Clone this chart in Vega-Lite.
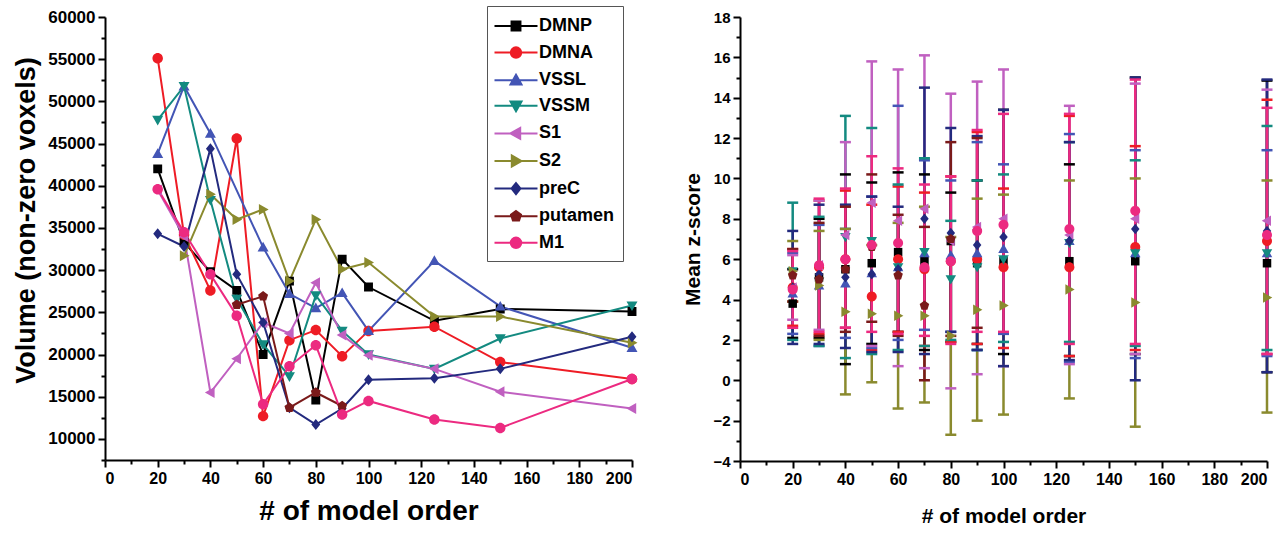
{
  "$schema": "https://vega.github.io/schema/vega-lite/v6.json",
  "padding": {"left": 12, "top": 5, "right": 0, "bottom": 0},
  "config": {
    "font": "Liberation Sans",
    "view": {"stroke": null},
    "axis": {"domainColor": "black", "domainWidth": 2, "tickColor": "black", "tickWidth": 2, "tickSize": 7, "labelFont": "Liberation Sans", "labelFontWeight": "bold", "labelFontSize": 15, "labelColor": "black", "labelPadding": 3, "titleFont": "Liberation Sans", "titleFontWeight": "bold", "titleFontSize": 21, "titleColor": "black", "grid": false}
  },
  "datasets": {
    "vol": [
      {"s":"DMNP","x":20,"v":42000},{"s":"DMNP","x":30,"v":33300},{"s":"DMNP","x":40,"v":29800},{"s":"DMNP","x":50,"v":27600},{"s":"DMNP","x":60,"v":20000},{"s":"DMNP","x":70,"v":28700},{"s":"DMNP","x":80,"v":14600},{"s":"DMNP","x":90,"v":31300},{"s":"DMNP","x":100,"v":28000},{"s":"DMNP","x":125,"v":24000},{"s":"DMNP","x":150,"v":25400},{"s":"DMNP","x":200,"v":25100},
      {"s":"DMNA","x":20,"v":55100},{"s":"DMNA","x":30,"v":34200},{"s":"DMNA","x":40,"v":27600},{"s":"DMNA","x":50,"v":45600},{"s":"DMNA","x":60,"v":12700},{"s":"DMNA","x":70,"v":21700},{"s":"DMNA","x":80,"v":22900},{"s":"DMNA","x":90,"v":19800},{"s":"DMNA","x":100,"v":22800},{"s":"DMNA","x":125,"v":23300},{"s":"DMNA","x":150,"v":19100},{"s":"DMNA","x":200,"v":17100},
      {"s":"VSSL","x":20,"v":43800},{"s":"VSSL","x":30,"v":51800},{"s":"VSSL","x":40,"v":46200},{"s":"VSSL","x":60,"v":32700},{"s":"VSSL","x":70,"v":27200},{"s":"VSSL","x":80,"v":25500},{"s":"VSSL","x":90,"v":27300},{"s":"VSSL","x":100,"v":22800},{"s":"VSSL","x":125,"v":31100},{"s":"VSSL","x":150,"v":25700},{"s":"VSSL","x":200,"v":20800},
      {"s":"VSSM","x":20,"v":47800},{"s":"VSSM","x":30,"v":51800},{"s":"VSSM","x":40,"v":38300},{"s":"VSSM","x":50,"v":26600},{"s":"VSSM","x":60,"v":21200},{"s":"VSSM","x":70,"v":17400},{"s":"VSSM","x":80,"v":27000},{"s":"VSSM","x":90,"v":22800},{"s":"VSSM","x":100,"v":20000},{"s":"VSSM","x":125,"v":18300},{"s":"VSSM","x":150,"v":21900},{"s":"VSSM","x":200,"v":25800},
      {"s":"S1","x":20,"v":39500},{"s":"S1","x":30,"v":34000},{"s":"S1","x":40,"v":15500},{"s":"S1","x":50,"v":19500},{"s":"S1","x":60,"v":23800},{"s":"S1","x":70,"v":22500},{"s":"S1","x":80,"v":28500},{"s":"S1","x":90,"v":22300},{"s":"S1","x":100,"v":19900},{"s":"S1","x":125,"v":18300},{"s":"S1","x":150,"v":15600},{"s":"S1","x":200,"v":13600},
      {"s":"S2","x":30,"v":31700},{"s":"S2","x":40,"v":39000},{"s":"S2","x":50,"v":36000},{"s":"S2","x":60,"v":37200},{"s":"S2","x":70,"v":28700},{"s":"S2","x":80,"v":36000},{"s":"S2","x":90,"v":30100},{"s":"S2","x":100,"v":30900},{"s":"S2","x":125,"v":24500},{"s":"S2","x":150,"v":24500},{"s":"S2","x":200,"v":21400},
      {"s":"preC","x":20,"v":34300},{"s":"preC","x":30,"v":32800},{"s":"preC","x":40,"v":44400},{"s":"preC","x":50,"v":29500},{"s":"preC","x":60,"v":23800},{"s":"preC","x":70,"v":13700},{"s":"preC","x":80,"v":11700},{"s":"preC","x":90,"v":13600},{"s":"preC","x":100,"v":17000},{"s":"preC","x":125,"v":17200},{"s":"preC","x":150,"v":18300},{"s":"preC","x":200,"v":22100},
      {"s":"putamen","x":50,"v":25900},{"s":"putamen","x":60,"v":26900},{"s":"putamen","x":70,"v":13700},{"s":"putamen","x":80,"v":15500},{"s":"putamen","x":90,"v":13900},
      {"s":"M1","x":20,"v":39600},{"s":"M1","x":30,"v":34500},{"s":"M1","x":40,"v":29500},{"s":"M1","x":50,"v":24600},{"s":"M1","x":60,"v":14100},{"s":"M1","x":70,"v":18600},{"s":"M1","x":80,"v":21100},{"s":"M1","x":90,"v":12900},{"s":"M1","x":100,"v":14500},{"s":"M1","x":125,"v":12300},{"s":"M1","x":150,"v":11300},{"s":"M1","x":200,"v":17100}
    ],
    "z": [
      {"s":"DMNP","x":20,"m":3.8,"lo":2.1,"hi":5.5},{"s":"DMNP","x":30,"m":5.1,"lo":2.1,"hi":8.0},{"s":"DMNP","x":40,"m":5.5,"lo":0.8,"hi":10.2},{"s":"DMNP","x":50,"m":5.8,"lo":1.8,"hi":9.8},{"s":"DMNP","x":60,"m":6.35,"lo":2.4,"hi":10.3},{"s":"DMNP","x":70,"m":5.9,"lo":1.5,"hi":10.2},{"s":"DMNP","x":80,"m":6.9,"lo":1.9,"hi":9.3},{"s":"DMNP","x":90,"m":5.8,"lo":1.8,"hi":9.9},{"s":"DMNP","x":100,"m":5.9,"lo":1.3,"hi":13.4},{"s":"DMNP","x":125,"m":5.9,"lo":1.2,"hi":10.7},{"s":"DMNP","x":150,"m":5.9,"lo":1.3,"hi":15.0},{"s":"DMNP","x":200,"m":5.8,"lo":0.4,"hi":14.85},
      {"s":"DMNA","x":20,"m":4.6,"lo":2.7,"hi":6.5},{"s":"DMNA","x":30,"m":5.6,"lo":2.3,"hi":8.9},{"s":"DMNA","x":40,"m":6.0,"lo":2.6,"hi":9.4},{"s":"DMNA","x":50,"m":4.15,"lo":1.5,"hi":8.7},{"s":"DMNA","x":60,"m":6.0,"lo":2.4,"hi":9.6},{"s":"DMNA","x":70,"m":5.5,"lo":1.7,"hi":9.3},{"s":"DMNA","x":80,"m":5.9,"lo":1.9,"hi":10.1},{"s":"DMNA","x":90,"m":6.0,"lo":1.8,"hi":12.3},{"s":"DMNA","x":100,"m":5.6,"lo":1.6,"hi":9.5},{"s":"DMNA","x":125,"m":5.6,"lo":1.2,"hi":13.1},{"s":"DMNA","x":150,"m":6.6,"lo":1.5,"hi":11.6},{"s":"DMNA","x":200,"m":6.9,"lo":1.3,"hi":13.9},
      {"s":"VSSL","x":20,"m":4.3,"lo":2.3,"hi":6.3},{"s":"VSSL","x":30,"m":4.7,"lo":1.7,"hi":7.7},{"s":"VSSL","x":40,"m":4.8,"lo":2.1,"hi":7.5},{"s":"VSSL","x":50,"m":5.3,"lo":1.6,"hi":9.1},{"s":"VSSL","x":60,"m":5.6,"lo":2.0,"hi":13.6},{"s":"VSSL","x":70,"m":6.3,"lo":2.5,"hi":10.9},{"s":"VSSL","x":80,"m":6.2,"lo":2.4,"hi":9.9},{"s":"VSSL","x":90,"m":6.3,"lo":1.5,"hi":11.8},{"s":"VSSL","x":100,"m":6.5,"lo":2.3,"hi":10.7},{"s":"VSSL","x":125,"m":6.9,"lo":0.9,"hi":12.2},{"s":"VSSL","x":150,"m":6.3,"lo":1.1,"hi":11.4},{"s":"VSSL","x":200,"m":6.3,"lo":1.2,"hi":11.4},
      {"s":"VSSM","x":20,"m":5.4,"lo":2.0,"hi":8.8},{"s":"VSSM","x":30,"m":4.9,"lo":1.7,"hi":8.1},{"s":"VSSM","x":40,"m":7.1,"lo":1.1,"hi":13.1},{"s":"VSSM","x":50,"m":6.9,"lo":1.3,"hi":12.5},{"s":"VSSM","x":60,"m":5.6,"lo":1.5,"hi":9.7},{"s":"VSSM","x":70,"m":6.35,"lo":1.7,"hi":11.0},{"s":"VSSM","x":80,"m":5.0,"lo":2.0,"hi":7.9},{"s":"VSSM","x":90,"m":5.6,"lo":1.5,"hi":9.9},{"s":"VSSM","x":100,"m":6.0,"lo":1.9,"hi":10.2},{"s":"VSSM","x":125,"m":6.8,"lo":1.9,"hi":11.8},{"s":"VSSM","x":150,"m":6.3,"lo":1.7,"hi":10.9},{"s":"VSSM","x":200,"m":6.3,"lo":1.5,"hi":12.6},
      {"s":"S1","x":20,"m":4.6,"lo":3.0,"hi":6.2},{"s":"S1","x":30,"m":5.7,"lo":2.5,"hi":8.9},{"s":"S1","x":40,"m":7.2,"lo":2.6,"hi":11.8},{"s":"S1","x":50,"m":8.8,"lo":1.7,"hi":15.8},{"s":"S1","x":60,"m":7.9,"lo":0.7,"hi":15.4},{"s":"S1","x":70,"m":8.5,"lo":0.6,"hi":16.1},{"s":"S1","x":80,"m":6.9,"lo":-0.4,"hi":14.2},{"s":"S1","x":90,"m":7.6,"lo":0.3,"hi":14.8},{"s":"S1","x":100,"m":8.0,"lo":0.7,"hi":15.4},{"s":"S1","x":125,"m":7.2,"lo":0.8,"hi":13.6},{"s":"S1","x":150,"m":8.0,"lo":1.3,"hi":14.7},{"s":"S1","x":200,"m":7.9,"lo":1.3,"hi":14.4},
      {"s":"S2","x":20,"m":5.4,"lo":3.9,"hi":6.9},{"s":"S2","x":30,"m":4.7,"lo":2.0,"hi":7.4},{"s":"S2","x":40,"m":3.4,"lo":-0.7,"hi":7.5},{"s":"S2","x":50,"m":3.3,"lo":-0.1,"hi":6.7},{"s":"S2","x":60,"m":3.2,"lo":-1.4,"hi":7.8},{"s":"S2","x":70,"m":3.2,"lo":-1.1,"hi":8.6},{"s":"S2","x":80,"m":2.2,"lo":-2.7,"hi":7.1},{"s":"S2","x":90,"m":3.5,"lo":-2.0,"hi":9.0},{"s":"S2","x":100,"m":3.7,"lo":-1.7,"hi":9.2},{"s":"S2","x":125,"m":4.5,"lo":-0.9,"hi":9.9},{"s":"S2","x":150,"m":3.85,"lo":-2.3,"hi":10.0},{"s":"S2","x":200,"m":4.1,"lo":-1.6,"hi":9.9},
      {"s":"preC","x":20,"m":4.6,"lo":1.8,"hi":7.4},{"s":"preC","x":30,"m":5.25,"lo":1.8,"hi":8.7},{"s":"preC","x":40,"m":5.1,"lo":1.6,"hi":8.7},{"s":"preC","x":50,"m":5.25,"lo":1.4,"hi":9.1},{"s":"preC","x":60,"m":5.5,"lo":1.4,"hi":8.6},{"s":"preC","x":70,"m":8.0,"lo":1.3,"hi":14.5},{"s":"preC","x":80,"m":7.3,"lo":2.4,"hi":12.5},{"s":"preC","x":90,"m":6.7,"lo":1.5,"hi":12.1},{"s":"preC","x":100,"m":7.1,"lo":0.7,"hi":13.4},{"s":"preC","x":125,"m":6.9,"lo":1.0,"hi":11.8},{"s":"preC","x":150,"m":7.5,"lo":0.0,"hi":15.0},{"s":"preC","x":200,"m":7.4,"lo":0.4,"hi":14.9},
      {"s":"putamen","x":20,"m":5.2,"lo":3.9,"hi":6.5},{"s":"putamen","x":30,"m":5.0,"lo":2.2,"hi":7.8},{"s":"putamen","x":40,"m":5.5,"lo":2.4,"hi":8.6},{"s":"putamen","x":50,"m":6.6,"lo":2.9,"hi":10.2},{"s":"putamen","x":60,"m":5.2,"lo":2.2,"hi":8.2},{"s":"putamen","x":70,"m":3.7,"lo":0.0,"hi":7.6},{"s":"putamen","x":80,"m":7.0,"lo":2.2,"hi":11.8},{"s":"putamen","x":90,"m":7.4,"lo":2.6,"hi":12.0},
      {"s":"M1","x":20,"m":4.5,"lo":2.6,"hi":6.4},{"s":"M1","x":30,"m":5.7,"lo":2.4,"hi":9.0},{"s":"M1","x":40,"m":6.0,"lo":2.6,"hi":9.5},{"s":"M1","x":50,"m":6.7,"lo":2.4,"hi":11.1},{"s":"M1","x":60,"m":6.8,"lo":2.3,"hi":10.5},{"s":"M1","x":70,"m":5.6,"lo":2.2,"hi":9.7},{"s":"M1","x":80,"m":5.9,"lo":1.8,"hi":10.1},{"s":"M1","x":90,"m":7.4,"lo":2.4,"hi":12.4},{"s":"M1","x":100,"m":7.7,"lo":2.4,"hi":13.2},{"s":"M1","x":125,"m":7.5,"lo":1.8,"hi":13.2},{"s":"M1","x":150,"m":8.4,"lo":1.8,"hi":14.9},{"s":"M1","x":200,"m":7.2,"lo":1.3,"hi":13.5}
    ]
  },
  "spacing": 28,
  "resolve": {"scale": {"color": "independent", "fill": "independent", "stroke": "independent", "shape": "independent"}},
  "hconcat": [
    {
      "width": 527,
      "height": 443,
      "data": {"name": "vol"},
      "resolve": {"axis": {"x": "independent", "y": "independent"}},
      "layer": [
        {
          "transform": [{"filter": "datum.x < 0"}],
          "mark": {"type": "point", "filled": true, "size": 110, "opacity": 1, "strokeWidth": 2},
          "encoding": {
            "x": {"field": "x", "type": "quantitative", "scale": {"domain": [0, 200], "nice": false, "zero": false}, "axis": null},
            "y": {"field": "v", "type": "quantitative", "scale": {"domain": [7500, 60000], "nice": false, "zero": false}, "axis": null},
            "fill": {"field": "s", "type": "nominal", "scale": {"domain": ["DMNP","DMNA","VSSL","VSSM","S1","S2","preC","putamen","M1"], "range": ["#000000","#ee1c25","#4355b5","#138a80","#c060c0","#8a8a2e","#232a7e","#7a1a1a","#ec2a80"]},
              "legend": {"orient": "none", "legendX": 382, "legendY": -11, "title": " ", "titleFontSize": 1, "titlePadding": 2, "padding": 8, "symbolOffset": 12, "labelOffset": 14, "rowPadding": 7.6, "labelFont": "Liberation Sans", "labelFontWeight": "bold", "labelFontSize": 18, "labelColor": "black", "symbolSize": 110, "symbolStrokeWidth": 2, "strokeColor": "#555555"}},
            "stroke": {"field": "s", "type": "nominal", "scale": {"domain": ["DMNP","DMNA","VSSL","VSSM","S1","S2","preC","putamen","M1"], "range": ["#000000","#ee1c25","#4355b5","#138a80","#c060c0","#8a8a2e","#232a7e","#7a1a1a","#ec2a80"]},
              "legend": {"orient": "none", "legendX": 382, "legendY": -11, "title": " ", "titleFontSize": 1, "titlePadding": 2, "padding": 8, "symbolOffset": 12, "labelOffset": 14, "rowPadding": 7.6, "labelFont": "Liberation Sans", "labelFontWeight": "bold", "labelFontSize": 18, "labelColor": "black", "symbolSize": 110, "symbolStrokeWidth": 2, "strokeColor": "#555555"}},
            "shape": {"field": "s", "type": "nominal", "scale": {"domain": ["DMNP","DMNA","VSSL","VSSM","S1","S2","preC","putamen","M1"], "range": [
              "M-4.1,0H4.1M-0.85,-0.85H0.85V0.85H-0.85Z",
              "M-4.1,0H4.1M-1,0A1,1,0,1,0,1,0A1,1,0,1,0,-1,0Z",
              "M-4.1,0H4.1M0,-1.05L1.05,0.8L-1.05,0.8Z",
              "M-4.1,0H4.1M0,1.05L1.05,-0.8L-1.05,-0.8Z",
              "M-4.1,0H4.1M-1.05,0L0.8,-1.05L0.8,1.05Z",
              "M-4.1,0H4.1M1.05,0L-0.8,-1.05L-0.8,1.05Z",
              "M-4.1,0H4.1M0,-1.05L0.85,0L0,1.05L-0.85,0Z",
              "M-4.1,0H4.1M0,-1L0.95,-0.31L0.59,0.81L-0.59,0.81L-0.95,-0.31Z",
              "M-4.1,0H4.1M-1,0A1,1,0,1,0,1,0A1,1,0,1,0,-1,0Z"]},
              "legend": {"orient": "none", "legendX": 382, "legendY": -11, "title": " ", "titleFontSize": 1, "titlePadding": 2, "padding": 8, "symbolOffset": 12, "labelOffset": 14, "rowPadding": 7.6, "labelFont": "Liberation Sans", "labelFontWeight": "bold", "labelFontSize": 18, "labelColor": "black", "symbolSize": 110, "symbolStrokeWidth": 2, "strokeColor": "#555555"}}
          }
        },
        {
          "mark": {"type": "line", "strokeWidth": 2},
          "encoding": {
            "x": {"field": "x", "type": "quantitative", "scale": {"domain": [0, 200], "nice": false, "zero": false}, "axis": {"orient": "bottom", "values": [0,20,40,60,80,100,120,140,160,180,200], "labelFontSize": 16, "title": "# of model order", "titleFontSize": 28, "titlePadding": 11}},
            "y": {"field": "v", "type": "quantitative", "scale": {"domain": [7500, 60000], "nice": false, "zero": false}, "axis": {"orient": "left", "values": [10000,15000,20000,25000,30000,35000,40000,45000,50000,55000,60000], "format": "d", "labelFontSize": 17, "title": "Volume (non-zero voxels)", "titleFontSize": 27, "titlePadding": 7, "titleY": 203}},
            "color": {"field": "s", "type": "nominal", "scale": {"domain": ["DMNP","DMNA","VSSL","VSSM","S1","S2","preC","putamen","M1"], "range": ["#000000","#ee1c25","#4355b5","#138a80","#c060c0","#8a8a2e","#232a7e","#7a1a1a","#ec2a80"]}, "legend": null}
          }
        },
        {
          "mark": {"type": "point", "filled": true, "size": 110, "opacity": 1, "strokeWidth": 0},
          "encoding": {
            "x": {"field": "x", "type": "quantitative", "scale": {"domain": [0, 200], "nice": false, "zero": false}, "axis": {"orient": "bottom", "values": [10,30,50,70,90,110,130,150,170,190], "labels": false, "domain": false, "tickSize": 4, "title": null}},
            "y": {"field": "v", "type": "quantitative", "scale": {"domain": [7500, 60000], "nice": false, "zero": false}, "axis": {"orient": "left", "values": [7500,12500,17500,22500,27500,32500,37500,42500,47500,52500,57500], "labels": false, "domain": false, "tickSize": 4, "title": null}},
            "fill": {"field": "s", "type": "nominal", "scale": {"domain": ["DMNP","DMNA","VSSL","VSSM","S1","S2","preC","putamen","M1"], "range": ["#000000","#ee1c25","#4355b5","#138a80","#c060c0","#8a8a2e","#232a7e","#7a1a1a","#ec2a80"]}, "legend": null},
            "shape": {"field": "s", "type": "nominal", "scale": {"domain": ["DMNP","DMNA","VSSL","VSSM","S1","S2","preC","putamen","M1"], "range": [
              "M-4.1,0H4.1M-0.85,-0.85H0.85V0.85H-0.85Z",
              "M-4.1,0H4.1M-1,0A1,1,0,1,0,1,0A1,1,0,1,0,-1,0Z",
              "M-4.1,0H4.1M0,-1.05L1.05,0.8L-1.05,0.8Z",
              "M-4.1,0H4.1M0,1.05L1.05,-0.8L-1.05,-0.8Z",
              "M-4.1,0H4.1M-1.05,0L0.8,-1.05L0.8,1.05Z",
              "M-4.1,0H4.1M1.05,0L-0.8,-1.05L-0.8,1.05Z",
              "M-4.1,0H4.1M0,-1.05L0.85,0L0,1.05L-0.85,0Z",
              "M-4.1,0H4.1M0,-1L0.95,-0.31L0.59,0.81L-0.59,0.81L-0.95,-0.31Z",
              "M-4.1,0H4.1M-1,0A1,1,0,1,0,1,0A1,1,0,1,0,-1,0Z"]}, "legend": null}
          }
        }
      ]
    },
    {
      "width": 527,
      "height": 444,
      "data": {"name": "z"},
      "resolve": {"axis": {"x": "independent", "y": "independent"}},
      "layer": [
        {
          "mark": {"type": "rule", "strokeWidth": 2.5},
          "encoding": {
            "x": {"field": "x", "type": "quantitative", "scale": {"domain": [0, 200], "nice": false, "zero": false}, "axis": {"orient": "bottom", "values": [0,20,40,60,80,100,120,140,160,180,200], "labelFontSize": 16, "title": "# of model order", "titlePadding": 18}},
            "y": {"field": "lo", "type": "quantitative", "scale": {"domain": [-4, 18], "nice": false, "zero": false}, "axis": {"orient": "left", "values": [-4,-2,0,2,4,6,8,10,12,14,16,18], "labelFontSize": 15, "title": "Mean z-score", "titlePadding": 9}},
            "y2": {"field": "hi"},
            "color": {"field": "s", "type": "nominal", "scale": {"domain": ["DMNP","DMNA","VSSL","VSSM","S1","S2","preC","putamen","M1"], "range": ["#000000","#ee1c25","#4355b5","#138a80","#c060c0","#8a8a2e","#232a7e","#7a1a1a","#ec2a80"]}, "legend": null}
          }
        },
        {
          "mark": {"type": "tick", "orient": "horizontal", "size": 11, "thickness": 2.5, "opacity": 1},
          "encoding": {
            "x": {"field": "x", "type": "quantitative", "scale": {"domain": [0, 200], "nice": false, "zero": false}, "axis": null},
            "y": {"field": "lo", "type": "quantitative", "scale": {"domain": [-4, 18], "nice": false, "zero": false}, "axis": null},
            "color": {"field": "s", "type": "nominal", "scale": {"domain": ["DMNP","DMNA","VSSL","VSSM","S1","S2","preC","putamen","M1"], "range": ["#000000","#ee1c25","#4355b5","#138a80","#c060c0","#8a8a2e","#232a7e","#7a1a1a","#ec2a80"]}, "legend": null}
          }
        },
        {
          "mark": {"type": "tick", "orient": "horizontal", "size": 11, "thickness": 2.5, "opacity": 1},
          "encoding": {
            "x": {"field": "x", "type": "quantitative", "scale": {"domain": [0, 200], "nice": false, "zero": false}, "axis": null},
            "y": {"field": "hi", "type": "quantitative", "scale": {"domain": [-4, 18], "nice": false, "zero": false}, "axis": null},
            "color": {"field": "s", "type": "nominal", "scale": {"domain": ["DMNP","DMNA","VSSL","VSSM","S1","S2","preC","putamen","M1"], "range": ["#000000","#ee1c25","#4355b5","#138a80","#c060c0","#8a8a2e","#232a7e","#7a1a1a","#ec2a80"]}, "legend": null}
          }
        },
        {
          "mark": {"type": "point", "filled": true, "size": 100, "opacity": 1, "strokeWidth": 0},
          "encoding": {
            "x": {"field": "x", "type": "quantitative", "scale": {"domain": [0, 200], "nice": false, "zero": false}, "axis": {"orient": "bottom", "values": [10,30,50,70,90,110,130,150,170,190], "labels": false, "domain": false, "tickSize": 4, "title": null}},
            "y": {"field": "m", "type": "quantitative", "scale": {"domain": [-4, 18], "nice": false, "zero": false}, "axis": {"orient": "left", "values": [-3,-1,1,3,5,7,9,11,13,15,17], "labels": false, "domain": false, "tickSize": 4, "title": null}},
            "fill": {"field": "s", "type": "nominal", "scale": {"domain": ["DMNP","DMNA","VSSL","VSSM","S1","S2","preC","putamen","M1"], "range": ["#000000","#ee1c25","#4355b5","#138a80","#c060c0","#8a8a2e","#232a7e","#7a1a1a","#ec2a80"]}, "legend": null},
            "shape": {"field": "s", "type": "nominal", "scale": {"domain": ["DMNP","DMNA","VSSL","VSSM","S1","S2","preC","putamen","M1"], "range": [
              "M-0.85,-0.85H0.85V0.85H-0.85Z",
              "M-1,0A1,1,0,1,0,1,0A1,1,0,1,0,-1,0Z",
              "M0,-1.05L1.05,0.8L-1.05,0.8Z",
              "M0,1.05L1.05,-0.8L-1.05,-0.8Z",
              "M-1.05,0L0.8,-1.05L0.8,1.05Z",
              "M1.05,0L-0.8,-1.05L-0.8,1.05Z",
              "M0,-1.05L0.85,0L0,1.05L-0.85,0Z",
              "M0,-1L0.95,-0.31L0.59,0.81L-0.59,0.81L-0.95,-0.31Z",
              "M-1,0A1,1,0,1,0,1,0A1,1,0,1,0,-1,0Z"]}, "legend": null}
          }
        }
      ]
    }
  ]
}
